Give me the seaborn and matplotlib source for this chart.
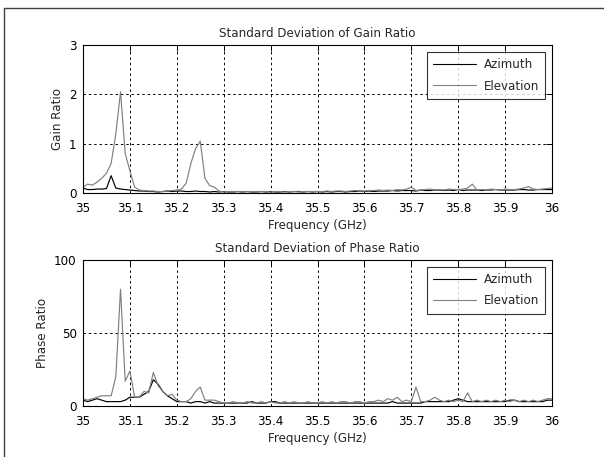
import numpy as np
import pandas as pd
import matplotlib
matplotlib.use("Agg")
import matplotlib.pyplot as plt
import matplotlib.patches as mpatches
import seaborn as sns

freq = [round(35.0 + 0.01 * i, 2) for i in range(101)]

az_gain = [0.10,0.07,0.07,0.08,0.08,0.09,0.35,0.10,0.08,0.07,
           0.06,0.05,0.04,0.04,0.03,0.03,0.02,0.03,0.04,0.03,
           0.04,0.04,0.03,0.03,0.04,0.03,0.03,0.02,0.03,0.02,
           0.03,0.02,0.02,0.03,0.02,0.03,0.02,0.02,0.03,0.02,
           0.03,0.02,0.02,0.03,0.02,0.03,0.03,0.02,0.03,0.02,
           0.03,0.02,0.03,0.02,0.03,0.03,0.02,0.03,0.03,0.04,
           0.03,0.04,0.03,0.04,0.04,0.04,0.05,0.04,0.05,0.05,
           0.05,0.04,0.06,0.05,0.05,0.06,0.06,0.05,0.06,0.05,
           0.07,0.05,0.06,0.06,0.06,0.05,0.06,0.06,0.07,0.06,
           0.06,0.06,0.06,0.07,0.07,0.06,0.06,0.07,0.07,0.07,0.07]

el_gain = [0.12,0.18,0.16,0.22,0.30,0.40,0.60,1.20,2.05,0.80,
           0.45,0.12,0.06,0.05,0.04,0.04,0.03,0.03,0.04,0.05,
           0.06,0.08,0.20,0.60,0.90,1.05,0.30,0.15,0.12,0.04,
           0.02,0.03,0.02,0.03,0.02,0.03,0.03,0.02,0.03,0.03,
           0.02,0.03,0.03,0.02,0.03,0.03,0.02,0.03,0.03,0.03,
           0.03,0.03,0.04,0.03,0.04,0.04,0.03,0.04,0.05,0.04,
           0.04,0.05,0.05,0.06,0.05,0.06,0.05,0.07,0.06,0.08,
           0.12,0.05,0.06,0.07,0.08,0.06,0.07,0.06,0.08,0.07,
           0.07,0.08,0.10,0.18,0.06,0.07,0.06,0.08,0.07,0.06,
           0.08,0.07,0.07,0.08,0.10,0.13,0.08,0.07,0.08,0.09,0.10]

az_phase = [4,3,4,5,4,3,3,3,3,4,
            6,6,6,8,10,18,15,10,7,5,
            3,3,3,2,3,3,2,3,2,2,
            2,2,2,2,2,2,3,2,2,2,
            3,3,2,2,2,2,2,2,2,2,
            2,2,2,2,2,2,2,2,2,2,
            2,2,2,2,2,2,3,2,2,2,
            2,2,2,3,3,3,3,3,3,4,
            5,4,3,3,3,3,3,3,3,3,
            3,4,4,3,3,3,3,3,3,4,4]

el_phase = [5,4,5,6,7,7,7,20,80,17,
            24,6,6,10,9,23,14,10,7,8,
            4,3,3,5,10,13,4,4,4,3,
            2,2,3,2,2,3,2,2,3,2,
            3,2,2,3,2,3,2,2,3,2,
            2,3,2,3,2,3,3,2,3,3,
            2,3,3,4,3,5,4,6,3,4,
            3,13,3,3,4,6,4,3,4,3,
            4,3,9,3,4,3,4,3,4,3,
            4,3,4,3,4,3,4,3,4,5,5]

series_names = ["Azimuth", "Elevation"]
x_ticks = [35, 35.1, 35.2, 35.3, 35.4, 35.5, 35.6, 35.7, 35.8, 35.9, 36]
x_tick_labels = ["35", "35.1", "35.2", "35.3", "35.4", "35.5", "35.6", "35.7", "35.8", "35.9", "36"]

gain_df = pd.DataFrame({
    "Frequency": freq * 2,
    "Value": az_gain + el_gain,
    "Series": [series_names[0]] * len(freq) + [series_names[1]] * len(freq),
})
phase_df = pd.DataFrame({
    "Frequency": freq * 2,
    "Value": az_phase + el_phase,
    "Series": [series_names[0]] * len(freq) + [series_names[1]] * len(freq),
})

sns.set_style("white")
plt.rcParams["font.family"] = ["DejaVu Sans"]
FS = 8.6
plt.rcParams["font.size"] = FS

palette = {"Azimuth": "black", "Elevation": "#808080"}

fig = plt.figure(figsize=(6.04, 4.57), dpi=100)
fig.patch.set_facecolor("white")
ax1 = fig.add_axes([83/604, 1 - 193/457, (552-83)/604, (193-45)/457])
ax2 = fig.add_axes([83/604, 1 - 406/457, (552-83)/604, (406-260)/457])

border = mpatches.Rectangle((4/604, -0.1), 1.2, 1 - 8/457 + 0.1, transform=fig.transFigure,
                            fill=False, edgecolor="#404040", linewidth=1.0)
fig.patches.append(border)

def style_axes(ax, df, ylim, yticks, title, ylabel):
    sns.lineplot(data=df, x="Frequency", y="Value", hue="Series", palette=palette,
                 hue_order=series_names, linewidth=0.85, ax=ax, legend=True)
    ax.set_xlim(35, 36)
    ax.set_ylim(*ylim)
    ax.set_xticks(x_ticks)
    ax.set_xticklabels(x_tick_labels)
    ax.set_yticks(yticks)
    ax.set_yticklabels([str(v) for v in yticks])
    ax.grid(True, color="black", linestyle=(0, (2.5, 3)), linewidth=0.7)
    ax.set_axisbelow(True)
    ax.tick_params(direction="in", length=4, width=0.7, top=True, right=True,
                   labelsize=FS, colors="black")
    ax.tick_params(axis="x", pad=6.5)
    ax.tick_params(axis="y", pad=4.5)
    for s in ax.spines.values():
        s.set_visible(True)
        s.set_color("black")
        s.set_linewidth(0.8)
    ax.set_title(title, fontsize=FS, pad=6)
    ax.set_xlabel("Frequency (GHz)", fontsize=FS, labelpad=3)
    ax.set_ylabel(ylabel, fontsize=FS, labelpad=4)
    leg = ax.legend(loc="upper right", fontsize=FS, frameon=True, fancybox=False,
                    handlelength=3.6, borderaxespad=0.55, borderpad=0.55,
                    labelspacing=0.7, handletextpad=0.6)
    leg.get_frame().set_edgecolor("black")
    leg.get_frame().set_linewidth(0.8)
    for line in leg.get_lines():
        line.set_linewidth(0.8)

style_axes(ax1, gain_df, (0, 3), [0, 1, 2, 3], "Standard Deviation of Gain Ratio", "Gain Ratio")
style_axes(ax2, phase_df, (0, 100), [0, 50, 100], "Standard Deviation of Phase Ratio", "Phase Ratio")

fig.savefig("out.png", dpi=100)
